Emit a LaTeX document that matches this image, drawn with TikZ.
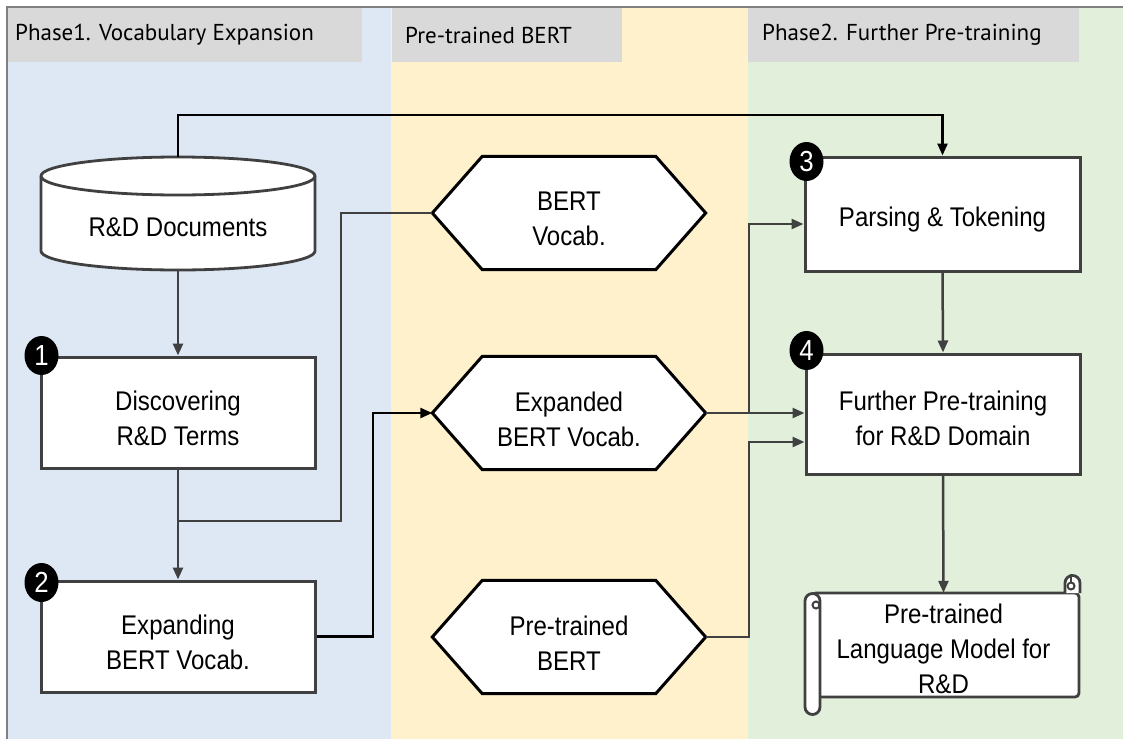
\documentclass[tikz,border=0pt]{standalone}
\usepackage{fontspec}
\setmainfont{Liberation Sans}[FakeStretch=0.89]
\newfontfamily\headfont{PT Sans}
\usetikzlibrary{arrows.meta,calc,shapes.geometric}
\definecolor{phaseblue}{HTML}{DEE8F4}
\definecolor{phaseyellow}{HTML}{FFF1CC}
\definecolor{phasegreen}{HTML}{E2EFDA}
\definecolor{headgray}{HTML}{D9D9D9}
\definecolor{edge}{HTML}{404040}
\pgfdeclarelayer{panels}
\pgfdeclarelayer{shapes}
\pgfsetlayers{panels,shapes,main}
\tikzset{
  txt/.style={font=\fontsize{27}{35}\selectfont, align=center, inner sep=0pt},
  caption/.style={txt, yshift=-6pt},
  frame/.style={inner sep=0pt},
  stepbox/.style={frame, draw=edge, line width=3pt, fill=white,
    minimum width=274pt, minimum height=111pt},
  hexnode/.style={frame, minimum width=273pt, minimum height=113pt},
  hexline/.style={draw=black, line width=3pt, fill=white, line join=miter},
  badge/.style={ellipse, fill=black, text=white, inner sep=0pt,
    minimum width=34pt, minimum height=39pt,
    font=\fontsize{29}{29}\selectfont},
  headbox/.style={fill=headgray},
  headtext/.style={anchor=west, inner sep=0pt,
    font=\headfont\fontsize{23}{26}\selectfont},
  tip/.style={-{Triangle[length=12pt,width=10pt]}},
  flow/.style={draw=edge, line width=2.5pt, tip},
  flowk/.style={draw=black, line width=2.5pt, tip},
  link/.style={draw=edge, line width=2.5pt},
  outline/.style={draw=edge, line width=2.8pt, fill=white, line join=round},
}
\begin{document}
\begin{tikzpicture}[x=1pt,y=-1pt]
\useasboundingbox (0,0) rectangle (1123,739);

% phase panels
\begin{pgfonlayer}{panels}
  \fill[white] (0,0) rectangle (1123,739);
  \fill[phaseblue] (7,7) rectangle (391,739);
  \fill[phaseyellow] (391,7) rectangle (748,739);
  \fill[phasegreen] (748,7) rectangle (1123,739);
  \draw[gray, line width=1.2pt] (7,739) -- (7,7) -- (1123,7);
  \fill[headbox] (8,8) rectangle (362,62);
  \fill[headbox] (392,8) rectangle (622,62);
  \fill[headbox] (748,8) rectangle (1079,62);
\end{pgfonlayer}
\node[headtext] (h1) at (15,35) {Phase1. Vocabulary Expansion};
\node[headtext] (h2) at (405,35) {Pre-trained BERT};
\node[headtext] (h3) at (762,35) {Phase2. Further Pre-training};

% phase 1
\node[frame, minimum width=274pt, minimum height=113pt,
  label={[caption, yshift=-8pt]center:R\&D Documents}] (docs) at (178,213.5) {};
\node[stepbox, label={[caption]center:Discovering\\R\&D Terms}] (disc) at (178,412.5) {};
\node[stepbox, label={[caption]center:Expanding\\BERT Vocab.}] (expd) at (178,636.5) {};

% pre-trained BERT column
\node[hexnode, label={[caption]center:BERT\\Vocab.}] (bv) at (569,213) {};
\node[hexnode, label={[caption]center:Expanded\\BERT Vocab.}] (ev) at (569,413) {};
\node[hexnode, label={[caption]center:Pre-trained\\BERT}] (pb) at (569,637) {};

% phase 2
\node[stepbox, minimum width=275pt, minimum height=114pt,
  label={[caption]center:Parsing \& Tokening}] (parse) at (942.5,214) {};
\node[stepbox, minimum height=120pt,
  label={[caption, yshift=2pt]center:Further Pre-training\\for R\&D Domain}] (further) at (943,414) {};
\node[frame, minimum width=271pt, minimum height=104pt,
  label={[caption, yshift=2pt]center:Pre-trained\\Language Model for\\R\&D}] (model) at (943.5,645) {};

\begin{pgfonlayer}{shapes}
  % database cylinder
  \draw[outline] (41,176) -- (41,251)
    arc[start angle=180, end angle=360, x radius=137pt, y radius=19pt]
    -- (315,176)
    arc[start angle=0, end angle=180, x radius=137pt, y radius=19pt] -- cycle;
  \draw[draw=edge, line width=2.8pt] (41,176)
    arc[start angle=180, end angle=360, x radius=137pt, y radius=19pt];
  % hexagons
  \foreach \h in {bv,ev,pb}{
    \draw[hexline] (\h.west) -- ($(\h.north west)+(50,0)$)
      -- ($(\h.north east)+(-50,0)$) -- (\h.east)
      -- ($(\h.south east)+(-50,0)$) -- ($(\h.south west)+(50,0)$) -- cycle;
  }
  % scroll
  \draw[outline, rounded corners=4pt] (812,593) -- (1079,593) -- (1079,697) -- (812,697) -- cycle;
  \draw[outline] (805,601) -- (805,707)
    arc[start angle=180, end angle=360, radius=7.5pt] -- (820,601)
    arc[start angle=0, end angle=180, radius=7.5pt];
  \draw[draw=edge, line width=2pt] (816,605) circle[radius=3.5pt];
  \draw[outline] (1065,593) -- (1065,583)
    arc[start angle=180, end angle=0, radius=7.5pt] -- (1080,593);
  \draw[draw=edge, line width=2pt] (1071,586) circle[radius=3.5pt];
  \draw[draw=edge, line width=2pt] (1071,583) -- (1071,574);
\end{pgfonlayer}

% step badges
\node[badge] (b1) at ($(disc.north west)+(2,0)$) {1};
\node[badge] (b2) at ($(expd.north west)+(2,3)$) {2};
\node[badge] (b3) at ($(parse.north west)+(3,6)$) {3};
\node[badge] (b4) at ($(further.north west)+(2,-2)$) {4};

% connectors
\coordinate (top) at (178,115);
\coordinate (j1) at (178,521);
\coordinate (k1) at (341,521);
\coordinate (k2) at (373,636.5);
\coordinate (k3) at (749,413);
\coordinate (k5) at (749,637);

\draw[flowk] (docs.north) -- (top) -| (parse.north);
\draw[flow] (docs.south) -- (disc.north);
\draw[flow] (disc.south) -- (expd.north);
\draw[link] (bv.west) -| (k1) -- (j1);
\draw[flowk] (expd.east) -- (k2) |- (ev.west);
\draw[flow] (ev.east) -- (ev.east -| further.west);
\draw[flow] (k3) |- ([yshift=-10pt]parse.west);
\draw[flow] (pb.east) -- (k5) |- ([yshift=-28pt]further.west);
\draw[flow] (parse.south) -- (further.north);
\draw[flow] (further.south) -- (model.north);
\end{tikzpicture}
\end{document}
